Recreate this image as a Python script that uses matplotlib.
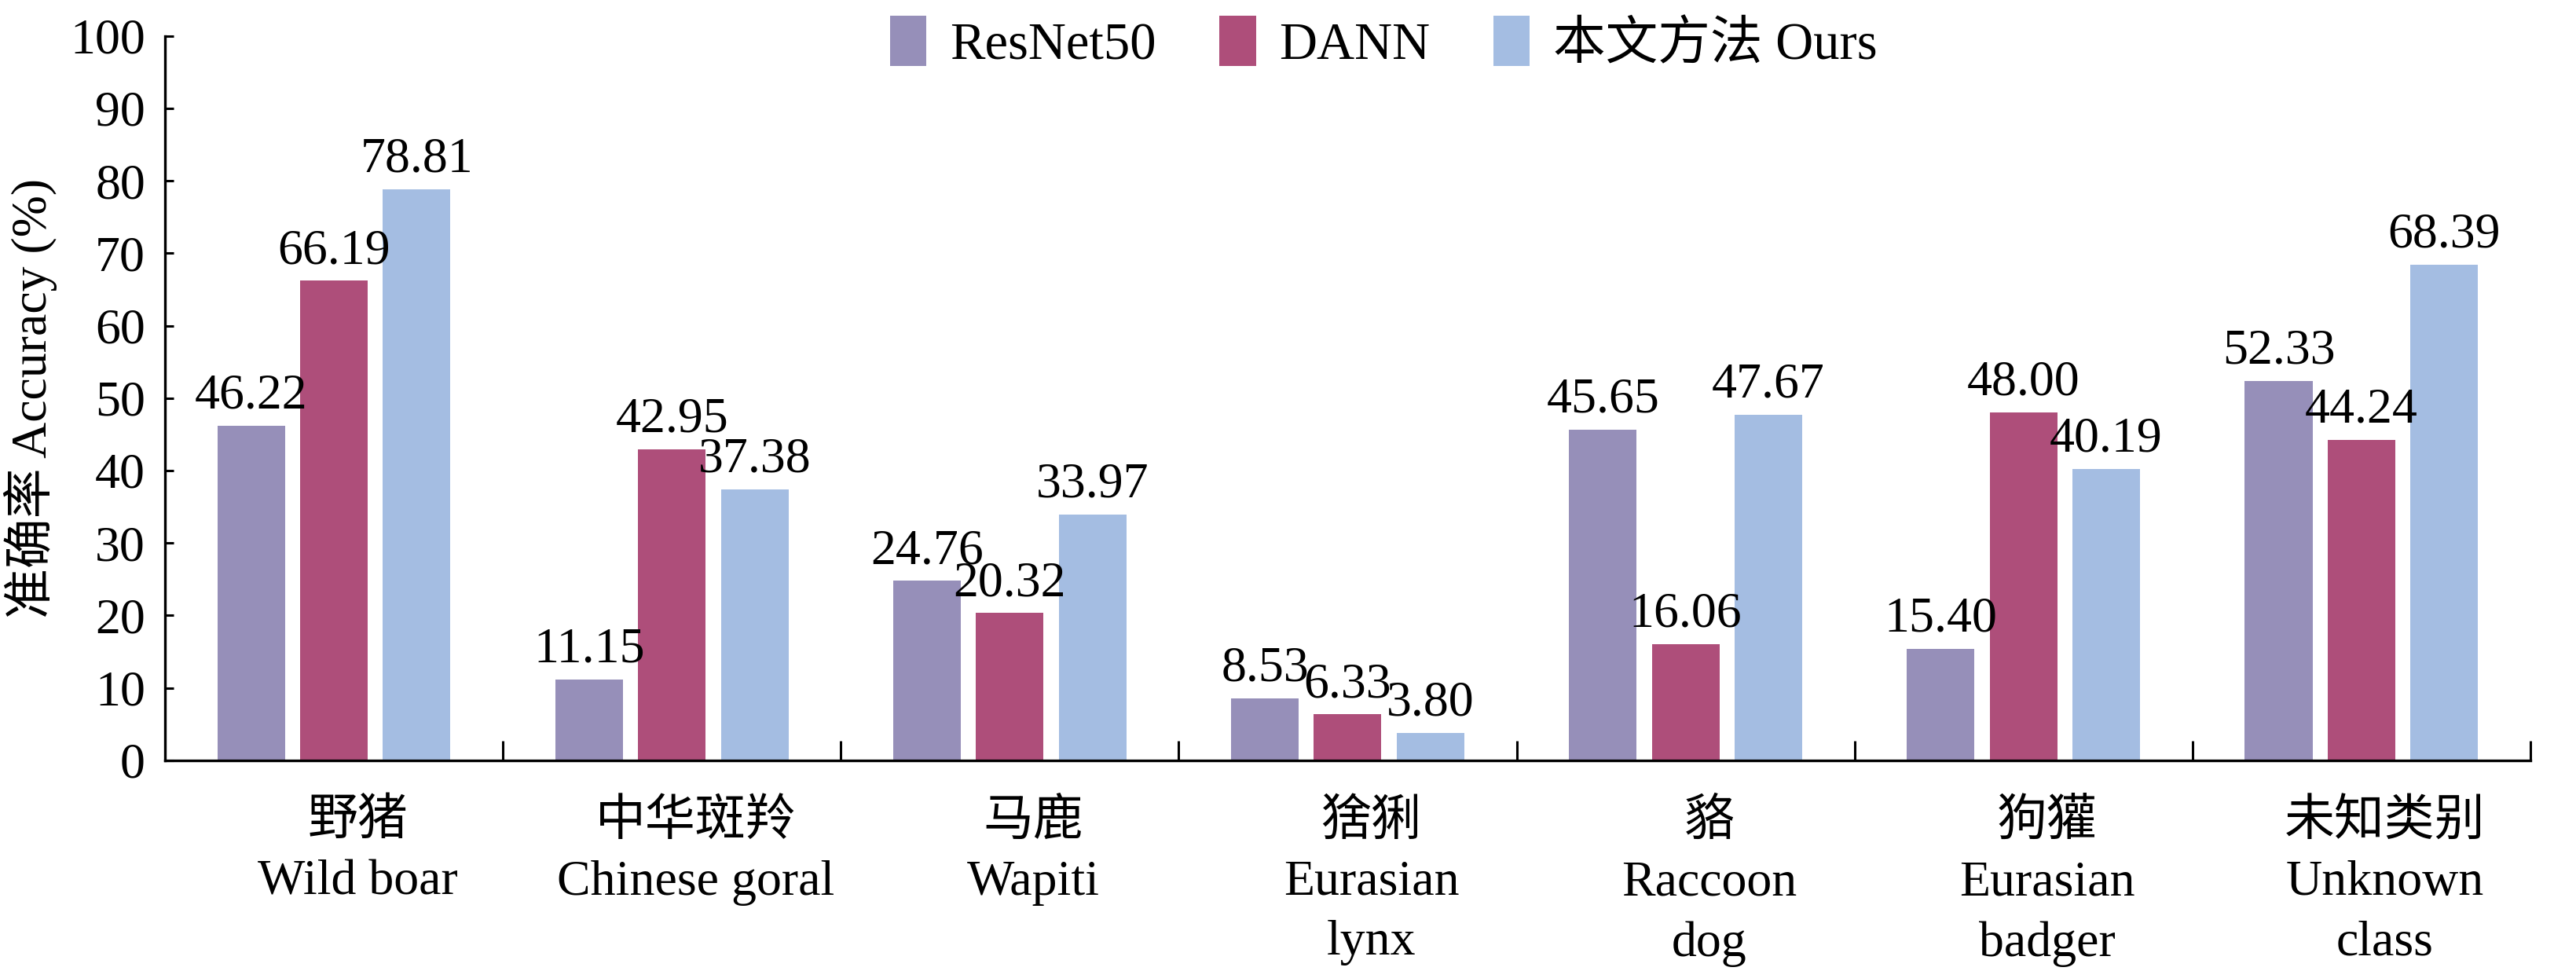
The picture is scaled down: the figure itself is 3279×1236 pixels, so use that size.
import matplotlib.pyplot as plt
import matplotlib.transforms as mtransforms
import numpy as np

plt.rcParams['font.family'] = ['Liberation Serif', 'Noto Sans CJK SC']
plt.rcParams['axes.unicode_minus'] = False

categories = ["野猪\nWild boar", "中华斑羚\nChinese goral", "马鹿\nWapiti",
              "猞猁\nEurasian\nlynx", "貉\nRaccoon\ndog", "狗獾\nEurasian\nbadger",
              "未知类别\nUnknown\nclass"]
methods = ["ResNet50", "DANN", "本文方法 Ours"]
resnet50 = [46.22, 11.15, 24.76, 8.53, 45.65, 15.40, 52.33]
dann = [66.19, 42.95, 20.32, 6.33, 16.06, 48.00, 44.24]
ours = [78.81, 37.38, 33.97, 3.80, 47.67, 40.19, 68.39]
colors = ["#968FB9", "#AE4E7A", "#A4BDE2"]

FS = 23

fig = plt.figure(figsize=(16.4, 6.18), dpi=200)
ax = fig.add_axes([0.064, 0.217, 0.918, 0.746])

x = np.arange(len(categories))
width = 0.2
step = 0.245
for i, (vals, name) in enumerate(zip([resnet50, dann, ours], methods)):
    bars = ax.bar(x + (i - 1) * step, vals, width, color=colors[i], label=name)
    for b, v in zip(bars, vals):
        ax.text(b.get_x() + b.get_width() / 2, v + 0.9, f"{v:.2f}",
                ha='center', va='bottom', fontsize=FS)

ax.set_xlim(-0.5, len(categories) - 0.5)
ax.set_ylim(0, 100)
ax.set_yticks(np.arange(0, 101, 10))
ax.set_xticks(x)
ax.set_xticklabels(categories, fontsize=FS, linespacing=1.42)
ax.set_xticks(np.arange(0.5, len(categories), 1), minor=True)
ax.tick_params(axis='x', which='major', length=0, pad=18)
ax.tick_params(axis='x', which='minor', direction='in', length=9, width=1.1)
ax.tick_params(axis='y', direction='in', length=4, width=1.1, labelsize=FS, pad=9)

# category labels sit a little to the right of the group centre in the original
shift = mtransforms.ScaledTranslation(0.15, 0, fig.dpi_scale_trans)
for lbl in ax.get_xticklabels():
    lbl.set_transform(lbl.get_transform() + shift)

for s in ['top', 'right']:
    ax.spines[s].set_visible(False)
for s in ['left', 'bottom']:
    ax.spines[s].set_linewidth(1.2)

ax.set_ylabel("准确率 Accuracy (%)", fontsize=FS, labelpad=6)

fig.legend(loc='upper center', bbox_to_anchor=(0.537, 1.005), ncol=3, frameon=False,
           fontsize=24, handlelength=0.7, handleheight=1.1, handletextpad=0.45,
           columnspacing=1.2, borderaxespad=0.0)

fig.savefig("out.png", dpi=200)
